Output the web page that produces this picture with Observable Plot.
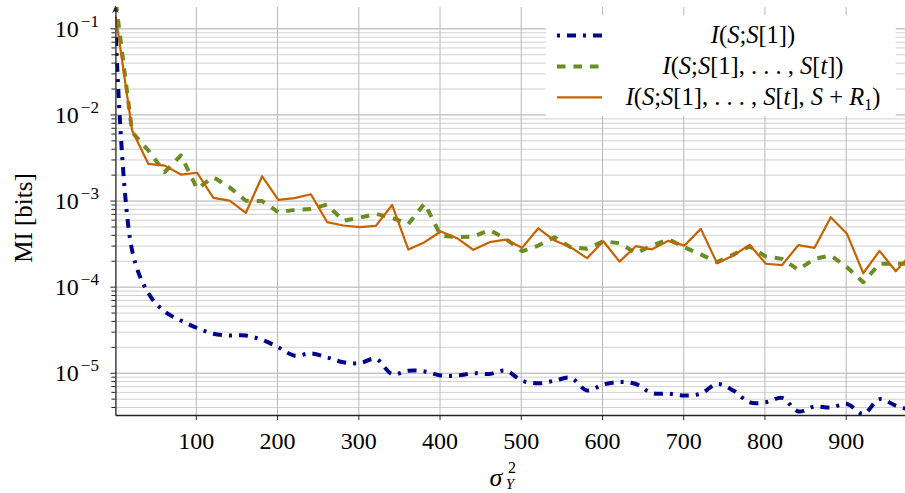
<!DOCTYPE html>
<html><head><meta charset="utf-8">
<script src="https://cdn.jsdelivr.net/npm/d3@7"></script>
<script src="https://cdn.jsdelivr.net/npm/@observablehq/plot@0.6"></script>
<style>html,body{margin:0;padding:0;background:#fff;} svg{display:block;}</style>
</head><body><div id="chart"></div>
<script>
// ---- data ----
const sigma2 = [1,21,41,61,81,101,121,141,161,181,201,221,241,261,281,301,321,341,361,381,
  401,421,441,461,481,501,521,541,561,581,601,621,641,661,681,701,721,741,761,781,
  801,821,841,861,881,901,921,941,961,981];

// I(S;S[1])
const miS1 = [0.08,2.66e-4,8.5e-5,5.2e-5,4.1e-5,3.35e-5,2.87e-5,2.74e-5,2.74e-5,2.44e-5,
  2.0e-5,1.6e-5,1.7e-5,1.53e-5,1.34e-5,1.31e-5,1.47e-5,9.8e-6,1.07e-5,1.05e-5,
  9.4e-6,9.4e-6,1.0e-5,9.8e-6,1.07e-5,8.2e-6,7.66e-6,8.2e-6,8.83e-6,6.3e-6,
  7.4e-6,7.9e-6,7.5e-6,5.87e-6,5.8e-6,5.5e-6,5.8e-6,7.5e-6,6.3e-6,4.6e-6,
  4.6e-6,5.18e-6,3.6e-6,4.1e-6,4.0e-6,4.4e-6,3.37e-6,5.0e-6,4.2e-6,3.7e-6];

// I(S;S[1],...,S[t])
const miSt = [0.2,6.3e-3,3.86e-3,2.16e-3,3.4e-3,1.39e-3,1.89e-3,1.44e-3,1.01e-3,1.0e-3,
  7.4e-4,7.9e-4,8.1e-4,9.1e-4,5.9e-4,6.4e-4,7.1e-4,6.4e-4,5.4e-4,9.4e-4,
  3.97e-4,3.8e-4,3.87e-4,4.6e-4,3.64e-4,2.61e-4,3.04e-4,3.8e-4,2.9e-4,2.79e-4,
  3.41e-4,3.24e-4,2.48e-4,3.04e-4,3.6e-4,2.9e-4,2.4e-4,1.95e-4,2.39e-4,2.96e-4,
  2.27e-4,2.13e-4,1.59e-4,2.13e-4,2.33e-4,1.7e-4,1.14e-4,1.87e-4,1.87e-4,1.87e-4];

// I(S;S[1],...,S[t],S+R1)
const miStR = [0.136,6.6e-3,2.7e-3,2.58e-3,2.03e-3,2.13e-3,1.09e-3,1.01e-3,7.3e-4,1.94e-3,
  1.03e-3,1.08e-3,1.2e-3,5.7e-4,5.2e-4,4.97e-4,5.15e-4,9.0e-4,2.73e-4,3.33e-4,
  4.43e-4,3.7e-4,2.71e-4,3.33e-4,3.57e-4,2.86e-4,4.83e-4,3.48e-4,2.9e-4,2.17e-4,
  3.41e-4,1.98e-4,2.99e-4,2.75e-4,3.45e-4,3.04e-4,4.75e-4,1.9e-4,2.33e-4,3.1e-4,
  1.87e-4,1.8e-4,3.07e-4,2.86e-4,6.5e-4,4.16e-4,1.45e-4,2.64e-4,1.53e-4,2.49e-4];

const xTicks = [100,200,300,400,500,600,700,800,900];
const yMajor = [1e-5,1e-4,1e-3,1e-2,1e-1];
const yDomain = [3.23e-6, 0.177];
const xDomain = [1, 973];
const yMinor = d3.scaleLog().domain(yDomain).ticks().filter(v => !yMajor.some(m => Math.abs(v/m - 1) < 1e-9));

const seriesNames = ["I(S;S[1])", "I(S;S[1],...,S[t])", "I(S;S[1],...,S[t],S+R1)"];
const cBlue = "#00048c", cGreen = "#6b8e23", cOrange = "#c66300";
const FONT = "Liberation Serif, DejaVu Serif, serif";

const svg = Plot.plot({
  width: 905, height: 493,
  marginLeft: 115.4, marginRight: 0, marginTop: 7, marginBottom: 78,
  style: {background: "#fff", color: "#000", fontFamily: FONT, fontSize: "24px"},
  x: {domain: xDomain},
  y: {type: "log", domain: yDomain},
  marks: [
    Plot.gridY(yMinor, {stroke: "#d0d0d0", strokeOpacity: 1, strokeWidth: 1}),
    Plot.gridY(yMajor, {stroke: "#ababab", strokeOpacity: 1, strokeWidth: 1}),
    Plot.gridX(xTicks, {stroke: "#b8b8b8", strokeOpacity: 1, strokeWidth: 1}),
    Plot.line(sigma2, {x: sigma2, y: miS1, stroke: cBlue, strokeWidth: 4, strokeDasharray: "9,7,3,7", strokeLinecap: "butt", curve: "catmull-rom", clip: true}),
    Plot.line(sigma2, {x: sigma2, y: miSt, stroke: cGreen, strokeWidth: 4, strokeDasharray: "8.5,8", strokeLinecap: "butt", clip: true}),
    Plot.line(sigma2, {x: sigma2, y: miStR, stroke: cOrange, strokeWidth: 2.2, clip: true}),
    Plot.axisX(xTicks, {tickSize: 5, tickPadding: 11, fontSize: 24, label: null, stroke: "#222"}),
    Plot.axisY(yMinor, {tickSize: 4, tickFormat: () => "", label: null, stroke: "#222"}),
    Plot.axisY(yMajor, {tickSize: 5, tickPadding: 12, fontSize: 24, label: null, stroke: "#222",
      tickFormat: d => "10^" + Math.round(Math.log10(d))}),
    Plot.ruleX([xDomain[0]], {stroke: "#222", strokeWidth: 1.3}),
    Plot.ruleY([yDomain[0]], {stroke: "#222", strokeWidth: 1.3})
  ]
});
document.getElementById("chart").appendChild(svg);

const root = d3.select(svg);

// tick label sizes
root.selectAll('g[aria-label="x-axis tick label"] text').style("font-size", "24px").style("font-family", FONT);

// superscript exponents on y tick labels
root.selectAll('g[aria-label="y-axis tick label"] text').each(function () {
  const t = this.textContent;
  if (!t.includes("^")) return;
  const [b, e] = t.split("^");
  const s = d3.select(this).style("font-size", "24px").style("font-family", FONT);
  s.text(null);
  s.append("tspan").text(b);
  s.append("tspan").attr("dy", -10).attr("dx", 2).style("font-size", "17px").text("\u2212" + Math.abs(+e));
});

// arrow tip on top of y axis
const x0 = 115.4;
root.append("path").attr("d", `M${x0},5.5 L${x0+3.2},13 L${x0},11 L${x0-3.2},13 Z`).attr("fill", "#222");

// y-axis label
root.append("text").attr("transform", "translate(32,218) rotate(-90)")
  .attr("text-anchor", "middle").attr("font-size", 25).attr("fill", "#000")
  .text("MI [bits]");

// x-axis label sigma^2_Y
const xl = root.append("g").attr("fill", "#000");
xl.append("text").attr("x", 496).attr("y", 486).attr("font-size", 26).attr("font-style", "italic").text("σ");
xl.append("text").attr("x", 512).attr("y", 473).attr("font-size", 16).text("2");
xl.append("text").attr("x", 510).attr("y", 489).attr("font-size", 15).attr("font-style", "italic").text("Y");

// legend
const lg = root.append("g");
lg.append("rect").attr("x", 545.7).attr("y", 15).attr("width", 350).attr("height", 101).attr("fill", "#fff");
const legendRows = [
  {y: 35.5, stroke: cBlue, w: 4, dash: "3,7,9,7", parts: [["I","i"],["(",""],["S","i"],[";",""],["S","i"],["[1])",""]]},
  {y: 66.5, stroke: cGreen, w: 4, dash: "8.5,8", parts: [["I","i"],["(",""],["S","i"],[";",""],["S","i"],["[1], . . . , ",""],["S","i"],["[",""],["t","i"],["])",""]]},
  {y: 97.3, stroke: cOrange, w: 2.2, dash: null, parts: [["I","i"],["(",""],["S","i"],[";",""],["S","i"],["[1], . . . , ",""],["S","i"],["[",""],["t","i"],["], ",""],["S","i"],[" + ",""],["R","i"],["1","sub"],[")",""]]}
];
legendRows.forEach((r, k) => {
  const ln = lg.append("line").attr("x1", 557).attr("x2", 602).attr("y1", r.y).attr("y2", r.y)
    .attr("stroke", r.stroke).attr("stroke-width", r.w).attr("stroke-linecap", "butt");
  if (r.dash) ln.attr("stroke-dasharray", r.dash);
  const tx = lg.append("text").attr("x", 753).attr("y", r.y + 7.5).attr("text-anchor", "middle")
    .attr("font-size", 24.5).attr("fill", "#000").attr("aria-label", seriesNames[k]);
  let shift = 0;
  r.parts.forEach(([s, st]) => {
    const ts = tx.append("tspan").text(s);
    if (st === "i") ts.attr("font-style", "italic");
    if (st === "sub") { ts.attr("font-size", 16).attr("dy", 5 - shift); shift = 5; }
    else if (shift) { ts.attr("dy", -shift); shift = 0; }
  });
});

// make every text use the serif family
root.selectAll("text").attr("font-family", FONT);
</script>
</body></html>
